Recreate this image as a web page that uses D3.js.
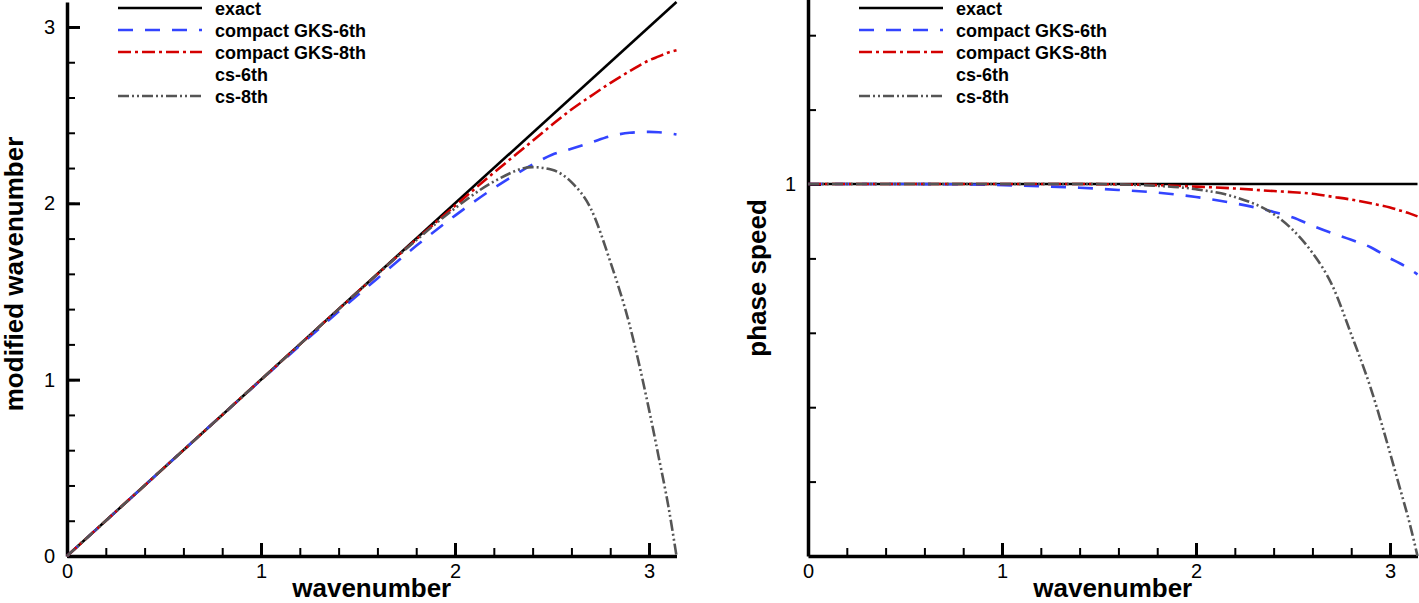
<!DOCTYPE html>
<html>
<head>
<meta charset="utf-8">
<script src="https://cdn.jsdelivr.net/npm/d3@7"></script>
<style>
  body { margin: 0; background: #fff; }
  svg { font-family: "Liberation Sans", Arial, Helvetica, sans-serif; }
</style>
</head>
<body>
<svg id="chart" width="1419" height="603"></svg>
<script>
// wavenumber grid (x values)
const wavenumbers = [0, 0.4, 0.8, 1.2, 1.4, 1.6, 1.8, 2.0, 2.2, 2.4, 2.5, 2.6, 2.7, 2.8, 2.9, 3.0, 3.05, 3.1, 3.1416];
const exactK = [0, 3.1416];

// left panel: modified wavenumber
const exactModified = [0, 3.1416];
const gks6Modified = [0, 0.4, 0.8, 1.193, 1.386, 1.574, 1.759, 1.93, 2.086, 2.22, 2.275, 2.309, 2.344, 2.38, 2.40, 2.405, 2.403, 2.397, 2.39];
const gks8Modified = [0, 0.4, 0.8, 1.2, 1.4, 1.598, 1.795, 1.986, 2.174, 2.354, 2.445, 2.532, 2.608, 2.682, 2.749, 2.811, 2.833, 2.855, 2.868];
const cs8Modified  = [0, 0.4, 0.8, 1.2, 1.4, 1.598, 1.791, 1.972, 2.123, 2.205, 2.19, 2.12, 1.97, 1.67, 1.31, 0.83, 0.56, 0.28, 0];

// right panel: phase speed
const exactPhase = [1, 1];
const gks6Phase = [1, 1, 0.999, 0.994, 0.99, 0.984, 0.977, 0.965, 0.948, 0.925, 0.91, 0.888, 0.868, 0.85, 0.83, 0.80, 0.787, 0.772, 0.757];
const gks8Phase = [1, 1, 1, 1, 1, 0.999, 0.997, 0.993, 0.988, 0.981, 0.978, 0.974, 0.966, 0.958, 0.948, 0.937, 0.929, 0.921, 0.913];
const cs8Phase  = [1, 1, 1, 1, 1, 0.999, 0.995, 0.986, 0.965, 0.919, 0.876, 0.815, 0.73, 0.596, 0.452, 0.277, 0.184, 0.09, 0];

const seriesNames = ["exact", "compact GKS-6th", "compact GKS-8th", "cs-6th", "cs-8th"];
const xTickLabels = [0, 1, 2, 3];

// line looks per series
const styles = {
  "exact":           { color: "#000000", dash: null },
  "compact GKS-6th": { color: "#3344ff", dash: "15,12" },
  "compact GKS-8th": { color: "#d40000", dash: "13,4,3,4" },
  "cs-6th":          { color: "#ffffff", dash: null },
  "cs-8th":          { color: "#555555", dash: "11,3,2,3,2,3" }
};

const svg = d3.select("#chart");

function drawPanel(p) {
  const x = d3.scaleLinear().domain([0, Math.PI]).range([p.left, p.right]);
  const y = d3.scaleLinear().domain([0, p.yMax]).range([556, p.top]);
  const g = svg.append("g");

  // minor ticks
  g.append("g").attr("transform", "translate(0,556)")
    .call(d3.axisBottom(x).tickValues(d3.range(0.2, 3.15, 0.2)).tickSize(-8).tickSizeOuter(0).tickFormat(""))
    .call(a => a.select(".domain").remove());
  g.append("g").attr("transform", `translate(${p.left},0)`)
    .call(d3.axisLeft(y).tickValues(p.yMinor).tickSize(-8).tickSizeOuter(0).tickFormat(""))
    .call(a => a.select(".domain").remove());

  // major ticks with labels
  const xa = g.append("g").attr("transform", "translate(0,556)")
    .call(d3.axisBottom(x).tickValues(xTickLabels).tickSize(-13).tickSizeOuter(0).tickPadding(8).tickFormat(d3.format("d")));
  const ya = g.append("g").attr("transform", `translate(${p.left},0)`)
    .call(d3.axisLeft(y).tickValues(p.yMajor).tickSize(-13).tickSizeOuter(0).tickPadding(12).tickFormat(d3.format("d")));

  g.selectAll(".tick line").attr("stroke", "#000").attr("stroke-width", 2);
  [xa, ya].forEach(a => {
    a.selectAll(".tick line").attr("stroke-width", 3);
    a.select(".domain").attr("stroke", "#000").attr("stroke-width", 3.5);
    a.selectAll("text").attr("font-size", 20).attr("fill", "#000");
  });

  // curves
  const line = d3.line().x(d => x(d[0])).y(d => y(d[1])).curve(d3.curveMonotoneX);
  p.series.forEach(s => {
    const st = styles[s.name];
    g.append("path")
      .datum(s.xs.map((k, i) => [k, s.ys[i]]))
      .attr("d", line)
      .attr("fill", "none")
      .attr("stroke", st.color)
      .attr("stroke-width", 2.6)
      .attr("stroke-dasharray", st.dash);
  });

  // axis titles
  g.append("text")
    .attr("x", (p.left + p.right) / 2).attr("y", 597)
    .attr("text-anchor", "middle").attr("font-size", 26).attr("font-weight", "bold")
    .text("wavenumber");
  g.append("text")
    .attr("transform", `translate(${p.yTitleX},${p.yTitleY}) rotate(-90)`)
    .attr("text-anchor", "middle").attr("font-size", 26).attr("font-weight", "bold")
    .text(p.yTitle);

  // legend
  const leg = g.selectAll(".leg").data(seriesNames).enter().append("g")
    .attr("transform", (d, i) => `translate(${p.legendX},${8 + i * 22})`);
  leg.append("line")
    .attr("x1", 0).attr("x2", 84).attr("y1", 0).attr("y2", 0)
    .attr("stroke", d => styles[d].color)
    .attr("stroke-width", 2.6)
    .attr("stroke-dasharray", d => styles[d].dash);
  leg.append("text")
    .attr("x", 97).attr("y", 7)
    .attr("font-size", 18).attr("font-weight", "bold")
    .text(d => d);
}

drawPanel({
  left: 67, right: 676.5, top: 2, yMax: Math.PI,
  yMajor: [0, 1, 2, 3],
  yMinor: d3.range(0.2, 3.15, 0.2),
  yTitle: "modified wavenumber", yTitleX: 23, yTitleY: 274,
  legendX: 118,
  series: [
    { name: "exact", xs: exactK, ys: exactModified },
    { name: "compact GKS-6th", xs: wavenumbers, ys: gks6Modified },
    { name: "compact GKS-8th", xs: wavenumbers, ys: gks8Modified },
    { name: "cs-8th", xs: wavenumbers, ys: cs8Modified }
  ]
});

drawPanel({
  left: 808, right: 1417.5, top: -2, yMax: 1.5,
  yMajor: [1],
  yMinor: [0.2, 0.4, 0.6, 0.8, 1.2, 1.4],
  yTitle: "phase speed", yTitleX: 766, yTitleY: 278,
  legendX: 859,
  series: [
    { name: "exact", xs: exactK, ys: exactPhase },
    { name: "compact GKS-6th", xs: wavenumbers, ys: gks6Phase },
    { name: "compact GKS-8th", xs: wavenumbers, ys: gks8Phase },
    { name: "cs-8th", xs: wavenumbers, ys: cs8Phase }
  ]
});
</script>
</body>
</html>
